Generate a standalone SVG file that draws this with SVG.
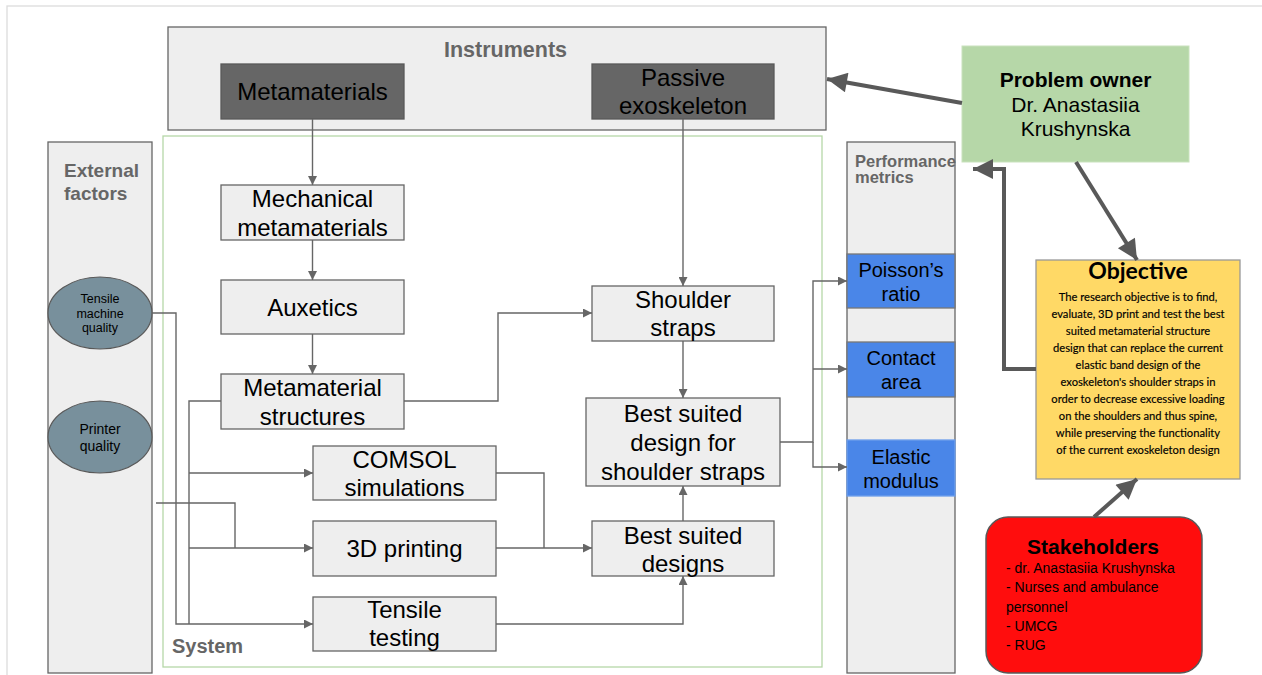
<svg xmlns="http://www.w3.org/2000/svg" width="1262" height="675" viewBox="0 0 1262 675">
<style>
.t{font-family:"Liberation Sans",Arial,sans-serif;text-anchor:middle;fill:#000}
.b{font-weight:bold}
.g{fill:#666;font-weight:bold;text-anchor:start}
.box{fill:#eeeeee;stroke:#666;stroke-width:1.3}
.dark{fill:#666666;stroke:#595959;stroke-width:1.3}
.blue{fill:#4a86e8;stroke:#777;stroke-width:1.3}
.c{fill:none;stroke:#666;stroke-width:1.4}
.k{fill:none;stroke:#595959;stroke-width:4}
.cal{font-family:Lato,"Liberation Sans",sans-serif;text-anchor:middle;fill:#000}
</style>
<defs>
<marker id="a" viewBox="0 0 10 10" refX="10" refY="5" markerWidth="10" markerHeight="9" markerUnits="userSpaceOnUse" orient="auto"><path d="M0,0L10,5L0,10z" fill="#666"/></marker>
<marker id="k" viewBox="0 0 10 10" refX="10" refY="5" markerWidth="24" markerHeight="20" markerUnits="userSpaceOnUse" orient="auto"><path d="M0,0L10,5L0,10z" fill="#595959"/></marker>
</defs>
<rect x="0" y="0" width="1262" height="675" fill="#fff"/>
<rect x="7" y="6" width="1262" height="680" fill="none" stroke="#dcdcdc" stroke-width="1.3"/>

<g id="instruments"><rect class="box" x="168" y="27" width="658" height="103"/><text class="t g" x="444" y="57" font-size="21.5">Instruments</text></g>
<g id="system"><rect x="163" y="136" width="659" height="531" fill="#fff" stroke="#b6d7a8" stroke-width="1.3"/><text class="t g" x="172" y="653" font-size="20">System</text></g>
<g id="external-factors"><rect class="box" x="48" y="142" width="104" height="531"/><text class="t g" x="64" y="177" font-size="19">External</text><text class="t g" x="64" y="200" font-size="19">factors</text></g>
<g id="performance-metrics"><rect class="box" x="847" y="142" width="108" height="531"/><text class="t g" x="855" y="167" font-size="16.5">Performance</text><text class="t g" x="855" y="183" font-size="16.5">metrics</text></g>

<g id="metamaterials"><rect class="dark" x="221" y="64" width="183" height="55"/><text class="t" x="312.5" y="100" font-size="24">Metamaterials</text></g>
<g id="passive-exoskeleton"><rect class="dark" x="592" y="64" width="182" height="55"/><text class="t" x="683" y="86" font-size="24">Passive</text><text class="t" x="683" y="114" font-size="24">exoskeleton</text></g>

<g id="mechanical-metamaterials"><rect class="box" x="221" y="185" width="183" height="55"/><text class="t" x="312.5" y="207" font-size="24">Mechanical</text><text class="t" x="312.5" y="236" font-size="24">metamaterials</text></g>
<g id="auxetics"><rect class="box" x="221" y="280" width="183" height="54"/><text class="t" x="312.5" y="316" font-size="24">Auxetics</text></g>
<g id="metamaterial-structures"><rect class="box" x="221" y="374" width="183" height="55"/><text class="t" x="312.5" y="396" font-size="24">Metamaterial</text><text class="t" x="312.5" y="425" font-size="24">structures</text></g>
<g id="comsol"><rect class="box" x="313" y="446" width="183" height="54"/><text class="t" x="404.5" y="468" font-size="24">COMSOL</text><text class="t" x="404.5" y="496" font-size="24">simulations</text></g>
<g id="printing"><rect class="box" x="313" y="521" width="183" height="55"/><text class="t" x="404.5" y="557" font-size="24">3D printing</text></g>
<g id="tensile-testing"><rect class="box" x="313" y="597" width="183" height="54"/><text class="t" x="404.5" y="618" font-size="24">Tensile</text><text class="t" x="404.5" y="646" font-size="24">testing</text></g>
<g id="shoulder-straps"><rect class="box" x="592" y="286" width="182" height="55"/><text class="t" x="683" y="308" font-size="24">Shoulder</text><text class="t" x="683" y="336" font-size="24">straps</text></g>
<g id="best-design"><rect class="box" x="586" y="398" width="194" height="88"/><text class="t" x="683" y="422" font-size="24">Best suited</text><text class="t" x="683" y="451" font-size="24">design for</text><text class="t" x="683" y="480" font-size="24">shoulder straps</text></g>
<g id="best-designs"><rect class="box" x="592" y="521" width="182" height="55"/><text class="t" x="683" y="544" font-size="24">Best suited</text><text class="t" x="683" y="572" font-size="24">designs</text></g>

<g id="tensile-machine-quality"><ellipse cx="100" cy="313" rx="52" ry="36" fill="#78909c" stroke="#595959" stroke-width="1.2"/><text class="t" x="100" y="303" font-size="12.5">Tensile</text><text class="t" x="100" y="317.5" font-size="12.5">machine</text><text class="t" x="100" y="332" font-size="12.5">quality</text></g>
<g id="printer-quality"><ellipse cx="100" cy="437" rx="52" ry="36" fill="#78909c" stroke="#595959" stroke-width="1.2"/><text class="t" x="100" y="434" font-size="14">Printer</text><text class="t" x="100" y="451" font-size="14">quality</text></g>

<g id="poissons-ratio"><rect class="blue" x="847" y="254" width="108" height="54"/><text class="t" x="901" y="277" font-size="20">Poisson’s</text><text class="t" x="901" y="301" font-size="20">ratio</text></g>
<g id="contact-area"><rect class="blue" x="847" y="342" width="108" height="55"/><text class="t" x="901" y="365" font-size="20">Contact</text><text class="t" x="901" y="389" font-size="20">area</text></g>
<g id="elastic-modulus"><rect x="847" y="440" width="108" height="56" fill="#4a86e8" stroke="#6d9eeb" stroke-width="1.3"/><text class="t" x="901" y="464" font-size="20">Elastic</text><text class="t" x="901" y="488" font-size="20">modulus</text></g>

<g id="problem-owner"><rect x="962" y="46" width="227" height="116" fill="#b6d7a8" stroke="#c9e2bd" stroke-width="1"/><text class="t b" x="1075.5" y="87" font-size="21">Problem owner</text><text class="t" x="1075.5" y="112" font-size="21">Dr. Anastasiia</text><text class="t" x="1075.5" y="136" font-size="21">Krushynska</text></g>
<g id="objective"><rect x="1036" y="260" width="204" height="219" fill="#ffd966" stroke="#999" stroke-width="1.3"/>
<text class="cal b" x="1138" y="279" font-size="23">Objective</text>
<text class="cal" font-size="11.2" stroke="#000" stroke-width="0.15"><tspan x="1138" y="301">The research objective is to find,</tspan><tspan x="1138" y="318">evaluate, 3D print and test the best</tspan><tspan x="1138" y="335">suited metamaterial structure</tspan><tspan x="1138" y="352">design that can replace the current</tspan><tspan x="1138" y="369">elastic band design of the</tspan><tspan x="1138" y="386">exoskeleton's shoulder straps in</tspan><tspan x="1138" y="403">order to decrease excessive loading</tspan><tspan x="1138" y="420">on the shoulders and thus spine,</tspan><tspan x="1138" y="437">while preserving the functionality</tspan><tspan x="1138" y="454">of the current exoskeleton design</tspan></text></g>
<g id="stakeholders"><rect x="986" y="517" width="216" height="156" rx="22" fill="#ff0d0d" stroke="#595959" stroke-width="1.5"/><text class="t b" x="1093" y="554" font-size="21">Stakeholders</text>
<text class="t" style="text-anchor:start" font-size="14"><tspan x="1006" y="573">- dr. Anastasiia Krushynska</tspan><tspan x="1006" y="592">- Nurses and ambulance</tspan><tspan x="1006" y="612">personnel</tspan><tspan x="1006" y="631">- UMCG</tspan><tspan x="1006" y="650">- RUG</tspan></text></g>

<g id="connectors">
<path class="c" d="M312.5,119V185" marker-end="url(#a)"/>
<path class="c" d="M312.5,240V280" marker-end="url(#a)"/>
<path class="c" d="M312.5,334V374" marker-end="url(#a)"/>
<path class="c" d="M404,401H498V313H592" marker-end="url(#a)"/>
<path class="c" d="M683,119V286" marker-end="url(#a)"/>
<path class="c" d="M683,341V398" marker-end="url(#a)"/>
<path class="c" d="M683,521V486" marker-end="url(#a)"/>
<path class="c" d="M780,442H813V281H847" marker-end="url(#a)"/>
<path class="c" d="M813,369H847" marker-end="url(#a)"/>
<path class="c" d="M813,442V467H847" marker-end="url(#a)"/>
<path class="c" d="M496,473H544V548"/>
<path class="c" d="M496,548H592" marker-end="url(#a)"/>
<path class="c" d="M496,624H683V576" marker-end="url(#a)"/>
<path class="c" d="M221,401H189V624"/>
<path class="c" d="M189,473H313" marker-end="url(#a)"/>
<path class="c" d="M189,548H313" marker-end="url(#a)"/>
<path class="c" d="M152,313H176V624H313" marker-end="url(#a)"/>
<path class="c" d="M156,503H235V548"/>
<path class="k" d="M962,103L827,79" marker-end="url(#k)"/>
<path class="k" d="M1076,162L1137,260" marker-end="url(#k)"/>
<path class="k" d="M1094,517L1137,479" marker-end="url(#k)"/>
<path class="k" d="M1036,369H1004V169H973" marker-end="url(#k)"/>
</g>
</svg>
